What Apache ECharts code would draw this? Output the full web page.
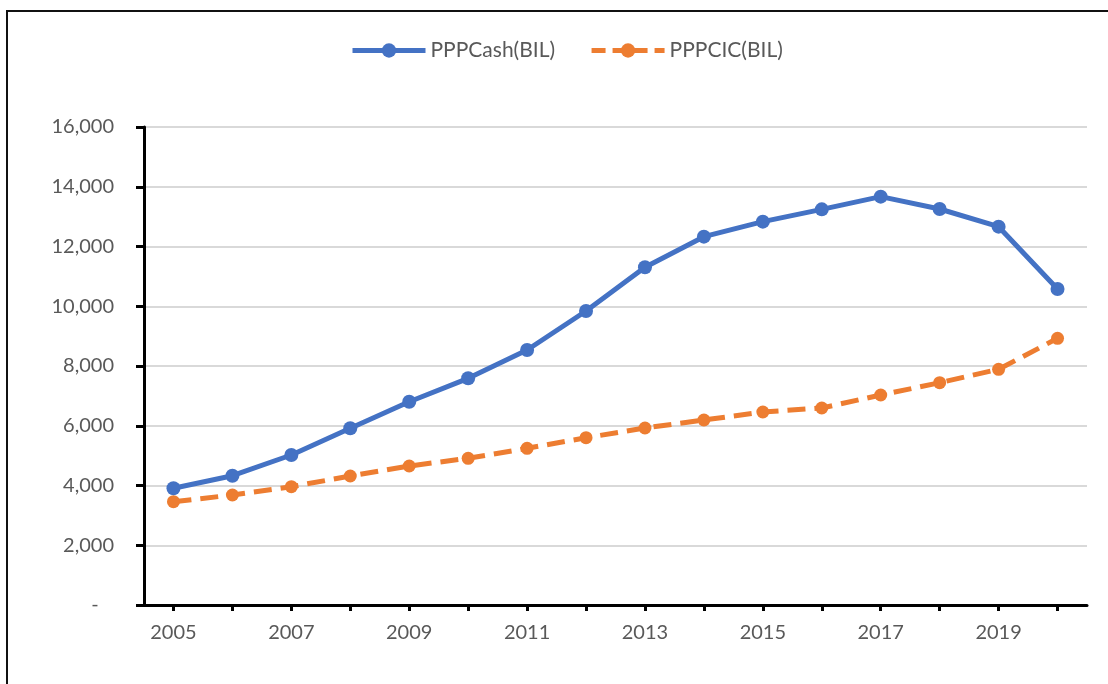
<!DOCTYPE html>
<html>
<head>
<meta charset="utf-8">
<script src="https://cdn.jsdelivr.net/npm/echarts@6/dist/echarts.min.js"></script>
<style>
  html, body { margin: 0; padding: 0; background: #fff; }
  #chart { width: 1108px; height: 684px; }
</style>
</head>
<body>
<div id="chart"></div>
<script>
const years = ['2005','2006','2007','2008','2009','2010','2011','2012','2013','2014','2015','2016','2017','2018','2019','2020'];
const pppCash = [3906, 4328, 5021, 5914, 6805, 7588, 8536, 9841, 11304, 12329, 12831, 13244, 13668, 13255, 12664, 10577];
const pppCic  = [3458, 3682, 3960, 4318, 4653, 4910, 5245, 5600, 5925, 6192, 6460, 6594, 7029, 7441, 7889, 8926];
const seriesNames = ['PPPCash(BIL)', 'PPPCIC(BIL)'];
const yMin = 0, yMax = 16000, yStep = 2000;

const FONT = 'Lato';
const TXT = '#595959';
const BLUE = '#4472C4';
const ORANGE = '#ED7D31';

const chart = echarts.init(document.getElementById('chart'), null, { renderer: 'canvas' });
chart.setOption({
  animation: false,
  backgroundColor: '#fff',
  textStyle: { fontFamily: FONT },
  graphic: [{
    type: 'polyline',
    shape: { points: [[7, 690], [7, 11], [1115, 11]] },
    style: { stroke: '#111', lineWidth: 2, fill: null },
    silent: true
  }],
  legend: {
    top: 35,
    left: 345,
    itemWidth: 73,
    itemHeight: 18,
    itemGap: 34,
    textStyle: { color: TXT, fontSize: 21, fontFamily: FONT },
    data: [
      { name: seriesNames[0], lineStyle: { width: 5, color: BLUE }, itemStyle: { color: BLUE } },
      { name: seriesNames[1], lineStyle: { width: 5, color: ORANGE, type: [14, 7] }, itemStyle: { color: ORANGE } }
    ]
  },
  grid: { left: 144, right: 21, top: 127, bottom: 79, containLabel: false },
  xAxis: {
    type: 'category',
    data: years,
    boundaryGap: true,
    axisLine: { lineStyle: { color: '#000', width: 3 } },
    axisTick: { show: true, alignWithLabel: true, interval: 0, length: 6, lineStyle: { color: '#000', width: 3 } },
    axisLabel: { interval: 1, color: TXT, fontSize: 20, fontFamily: FONT, margin: 18 },
    splitLine: { show: false }
  },
  yAxis: {
    type: 'value',
    min: yMin,
    max: yMax,
    interval: yStep,
    axisLine: { show: true, lineStyle: { color: '#000', width: 3 } },
    axisTick: { show: true, length: 8, lineStyle: { color: '#000', width: 3 } },
    axisLabel: {
      color: TXT, fontSize: 20, fontFamily: FONT, margin: 30,
      formatter: function (v) { return v === 0 ? '-   ' : v.toLocaleString('en-US'); }
    },
    splitLine: { lineStyle: { color: '#d9d9d9', width: 2 } }
  },
  series: [
    {
      name: seriesNames[0],
      type: 'line',
      data: pppCash,
      symbol: 'circle',
      symbolSize: 14,
      itemStyle: { color: BLUE },
      lineStyle: { color: BLUE, width: 5 },
      z: 3
    },
    {
      name: seriesNames[1],
      type: 'line',
      data: pppCic,
      symbol: 'circle',
      symbolSize: 13,
      itemStyle: { color: ORANGE },
      lineStyle: { color: ORANGE, width: 5, type: [18, 9] },
      z: 2
    }
  ]
});
</script>
</body>
</html>
